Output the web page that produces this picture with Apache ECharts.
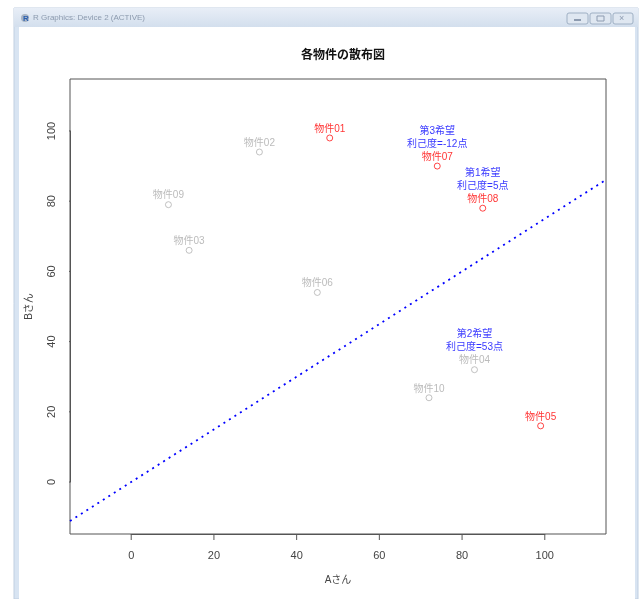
<!DOCTYPE html>
<html>
<head>
<meta charset="utf-8">
<script src="https://cdn.jsdelivr.net/npm/echarts@6/dist/echarts.min.js"></script>
<style>
html,body{margin:0;padding:0;background:#fff;}
#chart{width:643px;height:599px;}
</style>
</head>
<body>
<div id="chart"></div>
<script>
// ---- data ----
const categories = ['物件01','物件02','物件03','物件04','物件05','物件06','物件07','物件08','物件09','物件10'];
const aScores   = [48, 31, 14, 83, 99, 45, 74, 85, 9, 72];   // Aさん
const bScores   = [98, 94, 66, 32, 16, 54, 90, 78, 79, 24];  // Bさん
const isPick    = [true, false, false, false, true, false, true, true, false, false];
const rankNames  = ['', '', '', '第2希望', '', '', '第3希望', '第1希望', '', ''];
const rankScores = ['', '', '', '利己度=53点', '', '', '利己度=-12点', '利己度=5点', '', ''];
const tickValues = [0, 20, 40, 60, 80, 100];
const tickRange  = [0, 100];
const tickStep   = 20;
const axisLimits = [-14.8, 114.8];
const refIntercept = 0;
const refSlope = 0.75;

const FONT = '"Liberation Sans", "Noto Sans CJK JP", sans-serif';
const RED = '#ff0000', GRAY = '#aaaaaa', BLUE = '#0000ff', AXIS = '#555555';

// plot box layout (pixels)
const box = {left: 70, right: 37, top: 79, bottom: 65};
const W = 643, H = 599;
const boxW = W - box.left - box.right, boxH = H - box.top - box.bottom;
const span = axisLimits[1] - axisLimits[0];
const TICK_PX = 6;
// inner grid whose edges sit exactly at the tick range (0..100), for R-style labels
const inLeft = box.left + (tickRange[0] - axisLimits[0]) / span * boxW;
const inRight = box.right + (axisLimits[1] - tickRange[1]) / span * boxW;
const inTop = box.top + (axisLimits[1] - tickRange[1]) / span * boxH;
const inBottom = box.bottom + (tickRange[0] - axisLimits[0]) / span * boxH;

const points = categories.map((n, i) => ({
  name: n,
  value: [aScores[i], bScores[i]],
  itemStyle: { color: '#ffffff', borderColor: isPick[i] ? RED : GRAY }
}));
const refLine = axisLimits.map(x => [x, refIntercept + refSlope * x]);
// tick segments expressed in data units (tick length converted from pixels)
const xTickLen = TICK_PX / boxH * span;
const yTickLen = TICK_PX / boxW * span;
const xTickSegs = [];
tickValues.forEach(v => { xTickSegs.push([v, axisLimits[0]], [v, axisLimits[0] - xTickLen], [v, null]); });
const yTickSegs = [];
tickValues.forEach(v => { yTickSegs.push([axisLimits[0], v], [axisLimits[0] - yTickLen, v], [null, v]); });

const chart = echarts.init(document.getElementById('chart'), null, {renderer: 'canvas'});
chart.setOption({
  animation: false,
  backgroundColor: '#ffffff',
  title: {
    text: '各物件の散布図',
    left: 338, top: 43, textAlign: 'center',
    textStyle: { fontFamily: '"Noto Sans CJK JP", sans-serif', fontSize: 12, fontWeight: 'bold', color: '#111' }
  },
  graphic: {
    elements: [
      { type: 'rect', z: -20, silent: true, shape: {x: 14, y: 8, width: 624, height: 591},
        style: {fill: '#d8e4f2', stroke: '#c0cfe1', lineWidth: 1} },
      { type: 'rect', z: -19, silent: true, shape: {x: 14, y: 8, width: 624, height: 19},
        style: {fill: new echarts.graphic.LinearGradient(0, 0, 0, 1, [{offset: 0, color: '#e8eef7'}, {offset: 1, color: '#d3dfed'}])} },
      { type: 'rect', z: -18, silent: true, shape: {x: 19, y: 27, width: 616, height: 572},
        style: {fill: '#ffffff'} },
      { type: 'circle', z: -17, silent: true, shape: {cx: 25, cy: 18, r: 4}, style: {fill: '#a8b4c4'} },
      { type: 'text', z: -16, silent: true, x: 23, y: 15,
        style: {text: 'R', fontSize: 8, fontWeight: 'bold', fill: '#2a5fb0', fontFamily: FONT} },
      { type: 'text', z: -16, silent: true, x: 33, y: 14,
        style: {text: 'R Graphics: Device 2 (ACTIVE)', fontSize: 8, fill: '#8c9aae', fontFamily: FONT} },
      { type: 'rect', z: -16, silent: true, shape: {x: 567, y: 13, width: 21, height: 11, r: 2},
        style: {fill: '#dfe7f1', stroke: '#9fb0c4'} },
      { type: 'rect', z: -16, silent: true, shape: {x: 574, y: 19, width: 7, height: 2},
        style: {fill: '#8d9bb0'} },
      { type: 'rect', z: -16, silent: true, shape: {x: 590, y: 13, width: 21, height: 11, r: 2},
        style: {fill: '#dfe7f1', stroke: '#9fb0c4'} },
      { type: 'rect', z: -16, silent: true, shape: {x: 597, y: 16, width: 7, height: 5},
        style: {fill: 'none', stroke: '#8d9bb0'} },
      { type: 'rect', z: -16, silent: true, shape: {x: 613, y: 13, width: 20, height: 11, r: 2},
        style: {fill: '#dfe7f1', stroke: '#9fb0c4'} },
      { type: 'text', z: -16, silent: true, x: 619, y: 14,
        style: {text: '×', fontSize: 9, fill: '#8d9bb0', fontFamily: FONT} }
    ]
  },
  grid: [
    { left: box.left, right: box.right, top: box.top, bottom: box.bottom,
      show: true, borderColor: AXIS, borderWidth: 1, backgroundColor: 'transparent' },
    { left: inLeft, right: inRight, top: inTop, bottom: inBottom, show: false }
  ],
  xAxis: [
    {
      gridIndex: 0, type: 'value', min: axisLimits[0], max: axisLimits[1],
      name: 'Aさん', nameLocation: 'middle', nameGap: 41,
      nameTextStyle: { fontFamily: FONT, fontSize: 10, color: '#444' },
      axisLine: { show: false, onZero: false },
      axisTick: { show: false }, axisLabel: { show: false }, splitLine: { show: false }
    },
    {
      gridIndex: 1, type: 'value', min: tickRange[0], max: tickRange[1], interval: tickStep,
      position: 'bottom', offset: inBottom - box.bottom,
      axisLine: { show: true, onZero: false, lineStyle: {color: AXIS} },
      axisTick: { show: false },
      axisLabel: { margin: 16, fontFamily: FONT, fontSize: 11, color: '#444' },
      splitLine: { show: false }
    }
  ],
  yAxis: [
    {
      gridIndex: 0, type: 'value', min: axisLimits[0], max: axisLimits[1],
      name: 'Bさん', nameLocation: 'middle', nameGap: 36, nameRotate: 90,
      nameTextStyle: { fontFamily: FONT, fontSize: 10, color: '#444' },
      axisLine: { show: false, onZero: false },
      axisTick: { show: false }, axisLabel: { show: false }, splitLine: { show: false }
    },
    {
      gridIndex: 1, type: 'value', min: tickRange[0], max: tickRange[1], interval: tickStep,
      position: 'left', offset: inLeft - box.left,
      axisLine: { show: true, onZero: false, lineStyle: {color: AXIS} },
      axisTick: { show: false },
      axisLabel: { margin: 13, rotate: 90, fontFamily: FONT, fontSize: 11, color: '#444' },
      splitLine: { show: false }
    }
  ],
  series: [
    {
      type: 'line', xAxisIndex: 0, yAxisIndex: 0, data: refLine, showSymbol: false, silent: true,
      lineStyle: { color: BLUE, width: 1.8, type: [2, 4.5] }, z: 1
    },
    {
      type: 'line', xAxisIndex: 0, yAxisIndex: 0, data: xTickSegs, showSymbol: false, silent: true,
      clip: false, connectNulls: false, lineStyle: { color: AXIS, width: 1 }, z: 2
    },
    {
      type: 'line', xAxisIndex: 0, yAxisIndex: 0, data: yTickSegs, showSymbol: false, silent: true,
      clip: false, connectNulls: false, lineStyle: { color: AXIS, width: 1 }, z: 2
    },
    {
      type: 'scatter', xAxisIndex: 0, yAxisIndex: 0, data: points, symbol: 'circle', symbolSize: 6,
      itemStyle: { borderWidth: 0.9 },
      label: {
        show: true, position: 'top', distance: -1,
        formatter: function (p) {
          const i = p.dataIndex;
          let s = '';
          if (rankNames[i]) s += '{n|' + rankNames[i] + '}\n{n|' + rankScores[i] + '}\n';
          s += '{' + (isPick[i] ? 'r' : 'g') + '|' + categories[i] + '}';
          return s;
        },
        rich: {
          n: { color: BLUE, fontSize: 10, lineHeight: 13, fontFamily: FONT },
          r: { color: RED, fontSize: 10, lineHeight: 13, fontFamily: FONT },
          g: { color: GRAY, fontSize: 10, lineHeight: 13, fontFamily: FONT }
        }
      },
      z: 3
    }
  ]
});
</script>
</body>
</html>
